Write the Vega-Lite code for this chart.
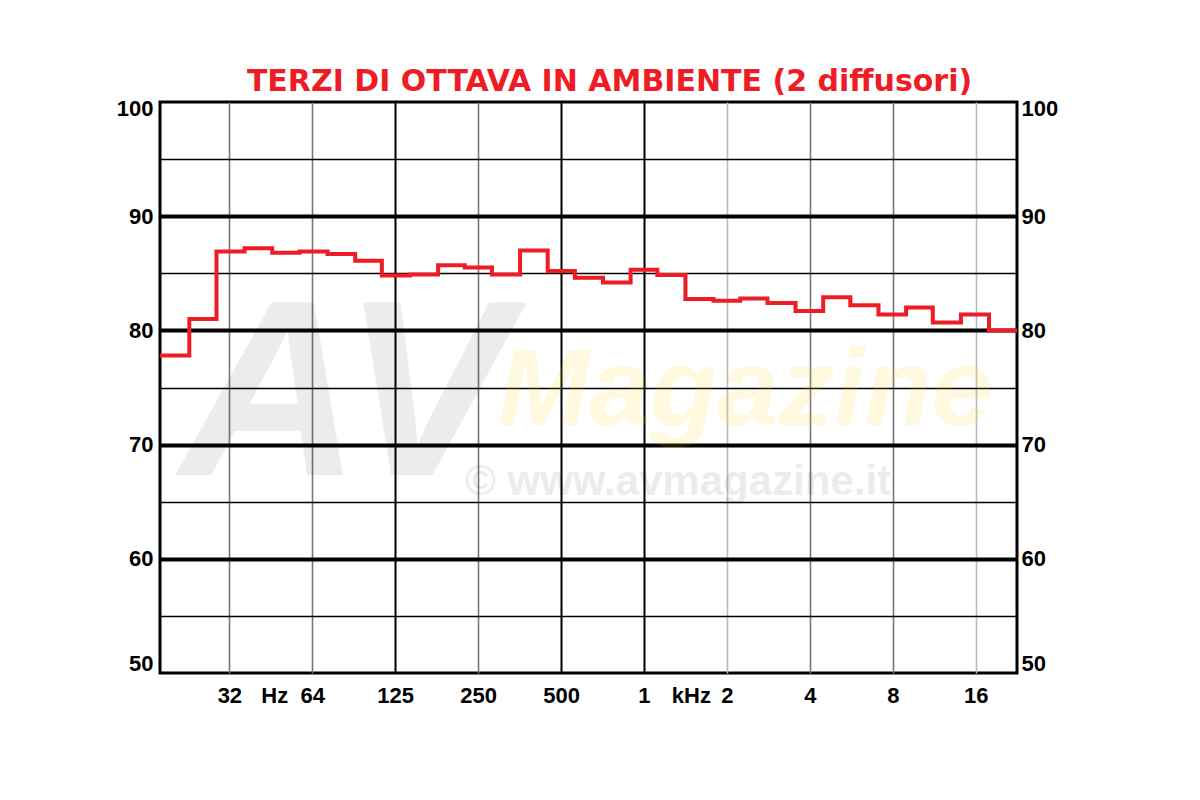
{
  "$schema": "https://vega.github.io/schema/vega-lite/v6.json",
  "width": 857,
  "height": 571,
  "autosize": {"type": "none"},
  "padding": {"left": 160, "top": 102, "right": 183, "bottom": 127},
  "background": "#ffffff",
  "config": {
    "view": {"stroke": "#000000", "strokeWidth": 3},
    "axis": {"labelFont": "Liberation Sans", "labelFontWeight": "bold", "labelFontSize": 22, "labelColor": "#000000", "ticks": false, "domain": false, "title": null}
  },
  "title": {
    "text": "TERZI DI OTTAVA IN AMBIENTE (2 diffusori)",
    "color": "#ee1c25",
    "font": "DejaVu Sans",
    "fontWeight": "bold",
    "fontSize": 30,
    "anchor": "middle",
    "dx": 21,
    "offset": 0
  },
  "datasets": {
    "bands": [
      {"f": 17.5, "db": 77.8},
      {"f": 20, "db": 77.8},
      {"f": 25, "db": 81.0},
      {"f": 31.5, "db": 86.9},
      {"f": 40, "db": 87.2},
      {"f": 50, "db": 86.8},
      {"f": 63, "db": 86.9},
      {"f": 80, "db": 86.7},
      {"f": 100, "db": 86.1},
      {"f": 125, "db": 84.8},
      {"f": 160, "db": 84.9},
      {"f": 200, "db": 85.7},
      {"f": 250, "db": 85.5},
      {"f": 315, "db": 84.9},
      {"f": 400, "db": 87.0},
      {"f": 500, "db": 85.2},
      {"f": 630, "db": 84.6},
      {"f": 800, "db": 84.2},
      {"f": 1000, "db": 85.3},
      {"f": 1250, "db": 84.85},
      {"f": 1600, "db": 82.75},
      {"f": 2000, "db": 82.6},
      {"f": 2500, "db": 82.8},
      {"f": 3150, "db": 82.4},
      {"f": 4000, "db": 81.7},
      {"f": 5000, "db": 82.9},
      {"f": 6300, "db": 82.2},
      {"f": 8000, "db": 81.4},
      {"f": 10000, "db": 82.0},
      {"f": 12500, "db": 80.7},
      {"f": 16000, "db": 81.4},
      {"f": 20000, "db": 80.0},
      {"f": 22600, "db": 80.0}
    ]
  },
  "resolve": {"scale": {"y": "independent"}, "axis": {"y": "independent"}},
  "layer": [
    {
      "data": {"values": [{}]},
      "mark": {"type": "text", "text": "AV", "font": "Liberation Sans", "fontWeight": "bold", "fontStyle": "italic", "fontSize": 250, "color": "#000000", "opacity": 0.07, "align": "center", "baseline": "middle"},
      "encoding": {
        "x": {"datum": 82, "type": "quantitative", "scale": {"type": "log", "domain": [17.5, 22600], "nice": false}},
        "y": {"datum": 73.9, "type": "quantitative", "scale": {"domain": [50, 100], "nice": false, "zero": false}, "axis": null}
      }
    },
    {
      "data": {"values": [{}]},
      "mark": {"type": "text", "text": "Magazine", "font": "Liberation Sans", "fontWeight": "bold", "fontStyle": "italic", "fontSize": 110, "color": "#ffd200", "opacity": 0.12, "align": "center", "baseline": "middle"},
      "encoding": {
        "x": {"datum": 2327, "type": "quantitative"},
        "y": {"datum": 74.6, "type": "quantitative", "scale": {"domain": [50, 100], "nice": false, "zero": false}, "axis": {"orient": "right", "values": [50, 60, 70, 80, 90, 100], "grid": false, "labelPadding": 4, "labelAlign": "left", "labelOffset": {"condition": [{"test": "datum.value === 100", "value": 6}, {"test": "datum.value === 50", "value": -10}], "value": 0}}}
      }
    },
    {
      "data": {"values": [{}]},
      "mark": {"type": "text", "text": "© www.avmagazine.it", "font": "Liberation Sans", "fontWeight": "bold", "fontSize": 42, "color": "#000000", "opacity": 0.07, "align": "center", "baseline": "middle"},
      "encoding": {
        "x": {"datum": 1329, "type": "quantitative"},
        "y": {"datum": 66.7, "type": "quantitative", "scale": {"domain": [50, 100], "nice": false, "zero": false}, "axis": null}
      }
    },
    {
      "data": {"name": "bands"},
      "mark": {"type": "line", "interpolate": "step", "color": "#ee1c25", "strokeWidth": 4, "clip": true},
      "encoding": {
        "x": {
          "field": "f",
          "type": "quantitative",
          "scale": {"type": "log", "domain": [17.5, 22600], "nice": false},
          "axis": {
            "orient": "bottom",
            "values": [31.25, 45.5, 62.5, 125, 250, 500, 1000, 1480, 2000, 4000, 8000, 16000],
            "labelExpr": "datum.value === 31.25 ? '32' : datum.value === 45.5 ? 'Hz' : datum.value === 62.5 ? '64' : datum.value === 1480 ? 'kHz' : datum.value >= 1000 ? format(datum.value / 1000, 'd') : format(datum.value, 'd')",
            "labelPadding": 12,
            "labelFlush": false,
            "labelOverlap": false,
            "grid": true,
            "gridColor": {"condition": [{"test": "datum.value === 125 || datum.value === 500 || datum.value === 1000", "value": "#000000"}, {"test": "datum.value === 2000 || datum.value === 16000", "value": "#bbbbbb"}], "value": "#777777"},
            "gridWidth": {"condition": {"test": "datum.value === 125 || datum.value === 500 || datum.value === 1000", "value": 2}, "value": 1.6},
            "gridOpacity": {"condition": {"test": "datum.value === 45.5 || datum.value === 1480", "value": 0}, "value": 1}
          }
        },
        "y": {
          "field": "db",
          "type": "quantitative",
          "scale": {"domain": [50, 100], "nice": false, "zero": false},
          "axis": {
            "orient": "left",
            "values": [50, 55, 60, 65, 70, 75, 80, 85, 90, 95, 100],
            "labelExpr": "datum.value % 10 === 0 ? datum.label : ''",
            "labelPadding": 7,
            "labelOffset": {"condition": [{"test": "datum.value === 100", "value": 6}, {"test": "datum.value === 50", "value": -10}], "value": 0},
            "grid": true,
            "gridColor": "#000000",
            "gridWidth": {"condition": {"test": "datum.value % 10 === 0", "value": 4}, "value": 1.6},
            "gridOpacity": {"condition": {"test": "datum.value === 50 || datum.value === 100", "value": 0}, "value": 1}
          }
        }
      }
    }
  ]
}
